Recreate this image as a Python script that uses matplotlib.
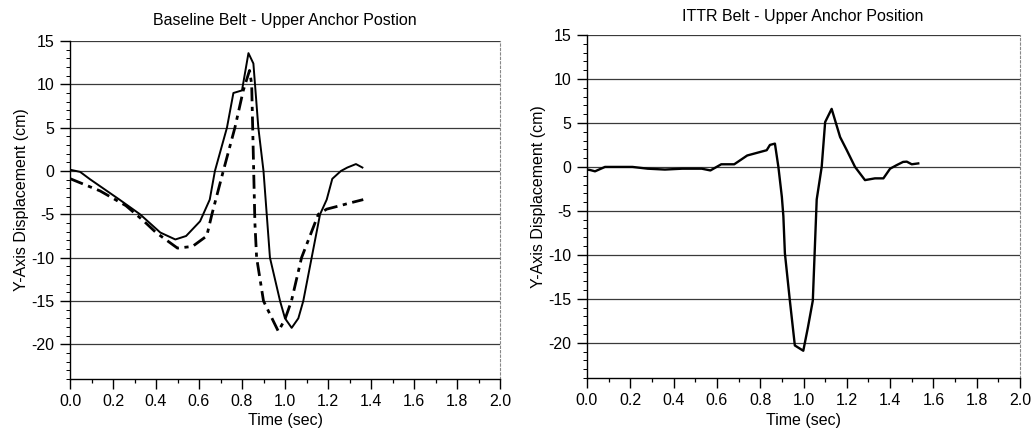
import matplotlib
matplotlib.use("Agg")
import matplotlib.pyplot as plt
from matplotlib.ticker import MultipleLocator

plt.rcParams['font.family'] = ['Liberation Sans', 'DejaVu Sans']

# ---- Data ----
base_solid_t = [0.0, 0.047, 0.093, 0.23, 0.326, 0.42, 0.49, 0.54, 0.605, 0.65, 0.674,
                0.73, 0.76, 0.80, 0.83, 0.853, 0.876, 0.90, 0.918, 0.93, 0.977, 1.0,
                1.031, 1.062, 1.085, 1.124, 1.163, 1.194, 1.22, 1.26, 1.29, 1.33, 1.36]
base_solid_y = [0.15, -0.1, -0.95, -3.3, -5.0, -7.1, -7.9, -7.5, -5.8, -3.3, 0.0,
                5.0, 9.0, 9.3, 13.6, 12.4, 5.0, 0.0, -6.0, -10.0, -15.0, -17.0,
                -18.1, -17.0, -15.0, -10.0, -5.0, -3.3, -0.9, 0.0, 0.4, 0.8, 0.4]

base_dash_t = [0.0, 0.14, 0.26, 0.34, 0.40, 0.50, 0.57, 0.636, 0.66, 0.713, 0.767,
               0.806, 0.835, 0.845, 0.86, 0.868, 0.90, 0.969, 1.0, 1.03, 1.077,
               1.155, 1.194, 1.256, 1.30, 1.364]
base_dash_y = [-0.88, -2.3, -4.0, -5.7, -7.1, -8.9, -8.7, -7.5, -5.0, 0.0, 5.0,
               9.3, 11.6, 10.0, -6.0, -10.0, -15.0, -18.5, -17.1, -15.0, -10.0,
               -5.0, -4.4, -4.0, -3.7, -3.3]

ittr_t = [0.0, 0.014, 0.037, 0.083, 0.21, 0.28, 0.36, 0.44, 0.53, 0.57, 0.62, 0.68,
          0.74, 0.83, 0.845, 0.868, 0.884, 0.90, 0.907, 0.914, 0.937, 0.96, 0.999,
          1.02, 1.043, 1.061, 1.084, 1.10, 1.13, 1.169, 1.20, 1.238, 1.284, 1.33,
          1.369, 1.40, 1.43, 1.46, 1.477, 1.50, 1.53]
ittr_y = [-0.3, -0.35, -0.5, 0.0, 0.0, -0.2, -0.3, -0.2, -0.2, -0.4, 0.3, 0.3,
          1.3, 1.9, 2.5, 2.65, 0.0, -3.4, -5.6, -9.8, -15.2, -20.3, -20.9,
          -18.3, -15.2, -3.7, 0.0, 5.1, 6.6, 3.4, 1.9, 0.0, -1.5, -1.3,
          -1.3, -0.2, 0.2, 0.57, 0.6, 0.3, 0.4]

titles = ["Baseline Belt - Upper Anchor Postion", "ITTR Belt - Upper Anchor Position"]
xlabel = "Time (sec)"
ylabel = "Y-Axis Displacement (cm)"
yticks = [15, 10, 5, 0, -5, -10, -15, -20]
xticks = [0.0, 0.2, 0.4, 0.6, 0.8, 1.0, 1.2, 1.4, 1.6, 1.8, 2.0]

W, H = 1035, 432
fig = plt.figure(figsize=(W / 100, H / 100), dpi=100)

def px_axes(x0, x1, ytop, ybot):
    return fig.add_axes([x0 / W, 1 - ybot / H, (x1 - x0) / W, (ybot - ytop) / H])

ax1 = px_axes(70, 500, 41, 379)
ax2 = px_axes(587, 1020, 35, 378)

# pixel positions for titles / labels: (title_x, title_y, xlabel_y, ylabel_x, ylabel_y)
label_pos = [(285, 21, 421, 22, 200), (803, 16, 420, 539, 197)]

FS = 11.5
for ax, title, (tx, ty, xly, ylx, yly) in zip([ax1, ax2], titles, label_pos):
    ax.set_xlim(0, 2.0)
    ax.set_ylim(-24, 15)
    for yv in yticks:
        ax.axhline(yv, color='#3a3a3a', lw=0.9, zorder=1)
    ax.set_xticks(xticks)
    ax.set_xticklabels([f"{v:.1f}" for v in xticks])
    ax.set_yticks(yticks)
    ax.set_yticklabels([str(v) for v in yticks])
    ax.xaxis.set_minor_locator(MultipleLocator(0.1))
    ax.yaxis.set_minor_locator(MultipleLocator(1))
    ax.tick_params(axis='both', which='major', direction='out', length=7, width=1.0,
                   labelsize=FS, colors='black', pad=4)
    ax.tick_params(axis='x', which='minor', direction='out', length=3, width=0.9)
    ax.tick_params(axis='y', which='minor', direction='out', length=3, width=0.7)
    ax.spines['top'].set_visible(False)
    ax.spines['right'].set_color('#888888')
    ax.spines['right'].set_linestyle((0, (2, 2)))
    ax.spines['right'].set_linewidth(0.8)
    ax.spines['left'].set_linewidth(1.0)
    ax.spines['bottom'].set_linewidth(1.0)
    fig.text(tx / W, 1 - ty / H, title, fontsize=FS, ha='center', va='center')
    fig.text(tx / W, 1 - xly / H, xlabel, fontsize=FS, ha='center', va='center')
    fig.text(ylx / W, 1 - yly / H, ylabel, fontsize=FS, ha='center', va='center',
             rotation=90)

ax1.plot(base_solid_t, base_solid_y, color='black', lw=1.4, solid_joinstyle='round', zorder=3)
ax1.plot(base_dash_t, base_dash_y, color='black', lw=2.0, linestyle=(0, (5, 2, 1.5, 2)), zorder=3)
ax2.plot(ittr_t, ittr_y, color='black', lw=1.7, solid_joinstyle='round', zorder=3)

fig.savefig("out.png", dpi=100, facecolor='white')
